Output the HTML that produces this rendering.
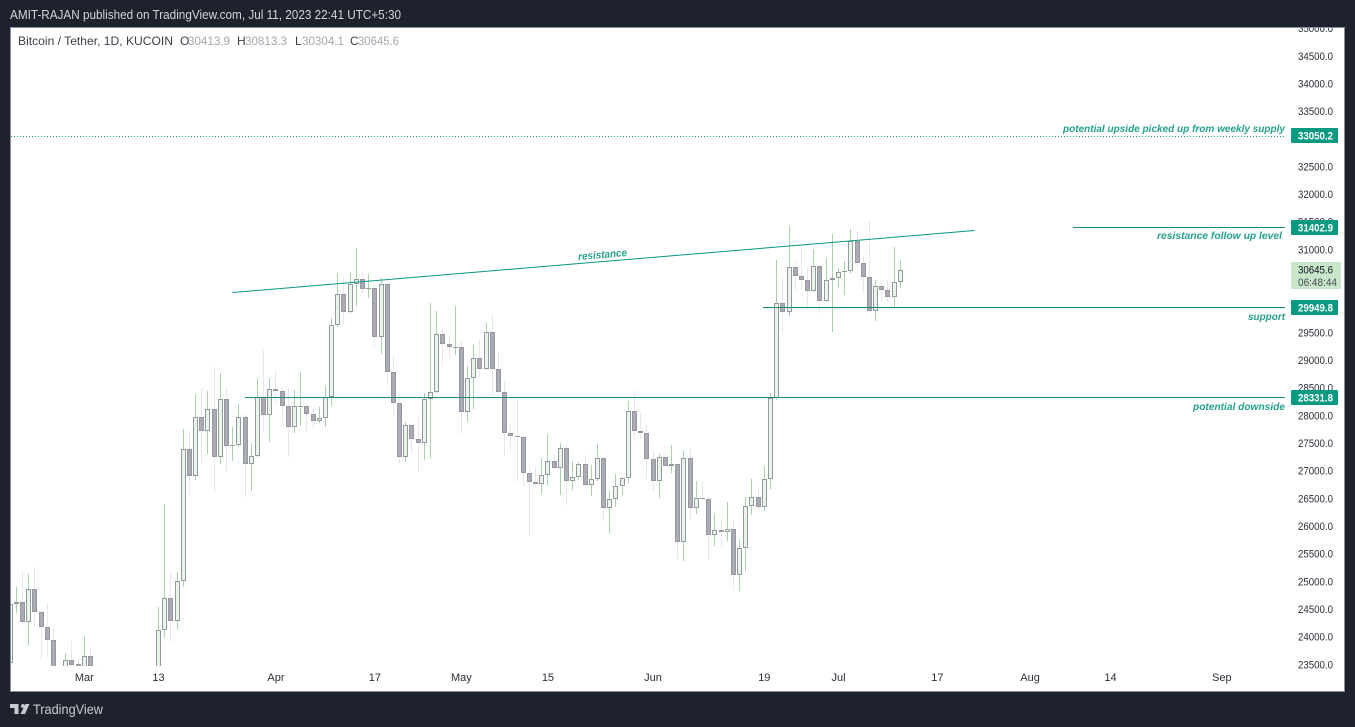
<!DOCTYPE html>
<html lang="en">
<head>
<meta charset="utf-8">
<title>Bitcoin / Tether, 1D, KUCOIN</title>
<style>
html,body{margin:0;padding:0;background:#1e222d;width:1355px;height:727px;overflow:hidden;}
svg{display:block;font-family:"Liberation Sans",sans-serif;}
</style>
</head>
<body>
<svg id="chart" xmlns="http://www.w3.org/2000/svg" width="1355" height="727" viewBox="0 0 1355 727">
  <defs>
    <clipPath id="pane-clip"><rect x="11" y="28" width="1274" height="638"></rect></clipPath>
    <clipPath id="frame-clip"><rect x="11" y="28" width="1333" height="663"></rect></clipPath>
  </defs>
  <rect x="0" y="0" width="1355" height="727" fill="#1e222d"></rect>
  <text x="10" y="19" font-size="12.5" fill="#d1d4dc" textLength="391" lengthAdjust="spacingAndGlyphs">AMIT-RAJAN published on TradingView.com, Jul 11, 2023 22:41 UTC+5:30</text>
  <rect x="10.5" y="27.5" width="1334" height="664" fill="#ffffff"></rect>
  <g id="candles" clip-path="url(#pane-clip)"></g>
  <g id="drawings"></g>
  <g id="price-axis" clip-path="url(#frame-clip)"></g>
  <g id="time-axis"></g>
  <g id="badges"></g>
  <rect x="10.5" y="27.5" width="1334" height="664" fill="none" stroke="#8a8d96" stroke-width="1"></rect>
  <g font-size="12">
    <text x="18" y="45" fill="#3a3e4a" textLength="155" lengthAdjust="spacingAndGlyphs">Bitcoin / Tether, 1D, KUCOIN</text>
    <text x="180" y="45" fill="#3a3e4a">O</text>
    <text x="188" y="45" fill="#a3a6ae" textLength="42" lengthAdjust="spacingAndGlyphs">30413.9</text>
    <text x="237" y="45" fill="#3a3e4a">H</text>
    <text x="245" y="45" fill="#a3a6ae" textLength="42" lengthAdjust="spacingAndGlyphs">30813.3</text>
    <text x="295" y="45" fill="#3a3e4a">L</text>
    <text x="302" y="45" fill="#a3a6ae" textLength="42" lengthAdjust="spacingAndGlyphs">30304.1</text>
    <text x="350" y="45" fill="#3a3e4a">C</text>
    <text x="358" y="45" fill="#a3a6ae" textLength="41" lengthAdjust="spacingAndGlyphs">30645.6</text>
  </g>
  <g fill="#c8cad0">
    <path d="M10 704H18.5V714H14.5V708H10Z M23 704A2 2 0 1 1 22.99 704Z M25.5 704H29.5L25 714H20.5Z"></path>
    <text x="33" y="714" font-size="14" fill="#c8cad0" textLength="70" lengthAdjust="spacingAndGlyphs">TradingView</text>
  </g>
</svg>
<script>
// Days are counted from Mar 1 2023; the first candle is Feb 17.
const firstDay = -12;
const opens = [23537,24593,24640,24278,24864,24459,24188,23953,23190,23170,23581,23514,23140,23653,23470,22350,22340,22430,22400,22200,21700,20370,20170,20630,22150,
24123,24701,24297,25009,27395,26918,27973,27731,28118,27261,28299,27460,27468,27973,27135,27268,28346,28020,28480,28454,28183,27803,28165,28172,28039,27912,27955,
28335,29636,30197,29882,30378,30468,30298,30305,29430,30378,28798,28237,27261,27829,27587,27514,28299,28425,29474,29304,29232,29239,28075,28678,29040,28841,29510,28852,
28436,27684,27641,27612,26972,26809,26773,26925,27178,27051,27413,26827,26889,27124,26755,26853,27232,26339,26491,26726,26871,28082,27731,27695,27214,26827,27250,27087,
27124,25725,27232,26339,26509,26491,25851,25931,25905,25949,25128,25605,26364,26527,26346,26853,28317,30038,29882,30685,30533,30461,30262,30703,30081,30450,30486,30595,
30613,31160,30768,30504,29900,30342,30280,30153,30413.9];
const highs = [25032,24906,25195,25141,25267,24472,24616,24165,23200,23707,23930,23622,24020,23821,23496,22420,22600,22620,22550,22260,21850,20800,20800,22770,24544,
26406,25177,25177,27762,27744,28395,28503,28449,28883,28774,28521,27798,28214,28033,27509,28666,29190,28666,28828,28526,28503,28467,28792,28196,28124,28160,28539,
29763,30564,30486,30582,31028,30595,30564,30310,30486,30425,29100,28395,27889,27834,28009,28407,30040,29895,29600,29456,29985,29353,28901,29280,29389,29673,29841,29154,
28648,27834,28328,27630,27111,27070,27220,27671,27310,27503,27485,27183,27165,27292,27111,27491,27238,26641,26948,26900,28268,28467,28051,27852,27364,27310,27352,27473,
27130,27364,27400,26822,26809,26538,26225,26117,26442,26117,25773,26538,26858,26719,27093,28407,30817,30510,31432,30799,31052,30672,31016,30708,30853,31287,30672,30799,
31377,31341,30889,31522,30450,30396,30455,31052,30813.3];
const lows = [23400,24436,24219,23857,24188,23604,23646,22850,22750,23050,23100,23030,23030,23200,22000,22200,22200,22200,21950,21600,20050,19550,20050,20500,21900,
23989,23917,24152,24911,26569,26840,27153,27310,26623,27129,27003,27183,27442,26533,26641,27261,27690,27527,28237,27876,27256,27690,27816,27731,27780,27870,27798,
28178,29611,29660,29864,29991,30226,30135,29250,29123,28575,28020,27153,27171,27333,26990,27202,27238,28420,28906,29051,29100,27677,27894,28124,28678,28828,28364,28430,
27274,27370,26809,26732,25833,26719,26587,26749,27045,26569,26388,26659,26840,26677,26551,26827,26099,25887,26357,26569,26791,27550,27581,26858,26647,26520,27070,26972,
25412,25376,26135,26225,26478,25394,25647,25623,25743,24851,24833,25195,26207,26340,26280,26677,28286,29479,29805,30262,30293,29944,30233,29864,30063,29521,30329,30184,
30577,30636,30202,29864,29714,30058,30052,29962,30304.1];
const closes = [24593,24640,24278,24864,24459,24188,23953,23190,23170,23581,23496,23140,23653,23470,22350,22340,22430,22400,22200,21700,20370,20170,20630,22150,24123,
24701,24297,25009,27395,26918,27973,27731,28118,27261,28299,27460,27468,27973,27135,27268,28346,28020,28480,28454,28183,27803,28172,28172,28039,27912,27955,28335,
29636,30197,29882,30378,30468,30298,30305,29430,30378,28798,28237,27261,27829,27587,27514,28299,28425,29474,29304,29239,29239,28075,28678,29040,28841,29510,28852,28436,
27684,27641,27612,26972,26809,26773,26925,27178,27051,27413,26827,26889,27124,26755,26853,27232,26339,26491,26726,26871,28082,27731,27695,27214,26827,27250,27087,27124,
25725,27232,26339,26509,26491,25851,25931,25905,25949,25128,25605,26364,26527,26346,26853,28317,30038,29882,30685,30533,30461,30262,30703,30081,30450,30486,30595,30613,
31160,30768,30504,29900,30342,30280,30153,30414,30645.6];
const priceTicks = [35000,34500,34000,33500,33000,32500,32000,31500,31000,30500,30000,29500,29000,28500,28000,27500,27000,26500,26000,25500,25000,24500,24000,23500];
const timeLabels = ["Mar","13","Apr","17","May","15","Jun","19","Jul","17","Aug","14","Sep"];
const timeDays = [0,12,31,47,61,75,92,110,122,138,153,166,184];
const levelPrices = [33050.2,31402.9,29949.8,28331.8];
const levelStartDays = [-11.9,160,109.8,26];
const levelNames = ["upside","resistance-follow-up","support","downside"];
const trendDays = [24,144];
const trendPrices = [30230,31350];
const lastPrice = 30645.6;
const countdown = "06:48:44";

const NS = "http://www.w3.org/2000/svg";
const PANE_RIGHT = 1285;
const PANE_BOTTOM = 667;
function xOf(day){ return 84.3 + day * 6.182; }
function yOf(price){ return 397.5 - (price - 28331.8) * 0.05532; }
function paneY(price){ return Math.min(Math.round(yOf(price)), PANE_BOTTOM); }
function make(tag, attrs, parent, text){
  const el = document.createElementNS(NS, tag);
  for (const k in attrs) el.setAttribute(k, attrs[k]);
  if (text !== undefined) el.textContent = text;
  parent.appendChild(el);
  return el;
}

const candleLayer = document.getElementById("candles");
opens.forEach(function(open, i){
  const close = closes[i];
  const up = close >= open;
  const px = Math.floor(xOf(firstDay + i));
  const g = make("g", {}, candleLayer);
  
  
  const wt = paneY(highs[i]);
  const wb = paneY(lows[i]);
  make("rect", {x:px, y:wt, width:1, height:Math.max(wb-wt,1), fill: up ? "#a5d6a7" : "#e8e8ea"}, g);
  const top = paneY(Math.max(open, close));
  const bot = Math.max(paneY(Math.min(open, close)), top + 1);
  make("rect", {x:px-2, y:top, width:5, height:bot-top, fill:"#9598a1"}, g);
  if (bot - top > 2) {
    make("rect", {x:px-1, y:top+1, width:3, height:bot-top-2, fill: up ? "#e8f5e9" : "#a9acb5"}, g);
  }
});

const drawLayer = document.getElementById("drawings");
const TEAL = "#089981";
const levelTextRows = [
  ["potential upside picked up from weekly supply", 1063, 132, 222],
  ["resistance follow up  level", 1157, 239, 125],
  ["support", 1248, 320, 37],
  ["potential downside", 1193, 410, 92]
];
levelPrices.forEach(function(price, i){
  const y = Math.floor(yOf(price)) + 0.5;
  const line = make("line", {x1:Math.round(xOf(levelStartDays[i])), y1:y, x2:PANE_RIGHT, y2:y, stroke: i === 0 ? "#0f9d85" : "#1c8a73", "stroke-width":1}, drawLayer);
  
  
  if (i === 0) line.setAttribute("stroke-dasharray", "1 2");
  const t = levelTextRows[i];
  const label = make("text", {x:t[1], y:t[2], "font-size":10.5, "font-style":"italic", "font-weight":"bold", fill:"#26a18b", textLength:t[3], lengthAdjust:"spacingAndGlyphs", "xml:space":"preserve"}, drawLayer, t[0]);
  
  
});
const trend = make("line", {x1:xOf(trendDays[0]), y1:yOf(trendPrices[0]), x2:xOf(trendDays[1]), y2:yOf(trendPrices[1]), stroke:TEAL, "stroke-width":1}, drawLayer);


const trendText = make("text", {x:578, y:258, "font-size":10.5, "font-style":"italic", "font-weight":"bold", fill:"#26a18b", textLength:49, lengthAdjust:"spacingAndGlyphs", transform:"rotate(-4.8 603 254)"}, drawLayer, "resistance");



const priceAxis = document.getElementById("price-axis");
priceTicks.forEach(function(p){
  const tick = make("text", {x:1298, y:yOf(p)+3.5, "font-size":11, fill:"#2a2e39", textLength:35, lengthAdjust:"spacingAndGlyphs"}, priceAxis, p.toFixed(1));
  
  
});

const timeAxis = document.getElementById("time-axis");
timeLabels.forEach(function(label, i){
  const tick = make("text", {x:xOf(timeDays[i]), y:681, "font-size":11, fill:"#2a2e39", "text-anchor":"middle"}, timeAxis, label);
  
  
});

const badgeLayer = document.getElementById("badges");
levelPrices.forEach(function(price, i){
  const y = Math.round(yOf(price)) - 8;
  const box = make("rect", {x:1291, y:y, width:47, height:15, rx:1, fill:TEAL}, badgeLayer);
  
  
  const txt = make("text", {x:1298, y:y+11.5, "font-size":11, "font-weight":"bold", fill:"#ffffff", textLength:35, lengthAdjust:"spacingAndGlyphs"}, badgeLayer, price.toFixed(1));
  
  
});
const lastY = Math.round(yOf(lastPrice));
const lastBox = make("rect", {x:1291, y:lastY-8, width:50, height:27, rx:1, fill:"#c8e6c9"}, badgeLayer);


const lastText = make("text", {x:1298, y:lastY+3.5, "font-size":11, fill:"#131722", textLength:35, lengthAdjust:"spacingAndGlyphs"}, badgeLayer, lastPrice.toFixed(1));


const countText = make("text", {x:1298, y:lastY+16, "font-size":11, fill:"#4a4e59", textLength:39, lengthAdjust:"spacingAndGlyphs"}, badgeLayer, countdown);


</script>
</body>
</html>
